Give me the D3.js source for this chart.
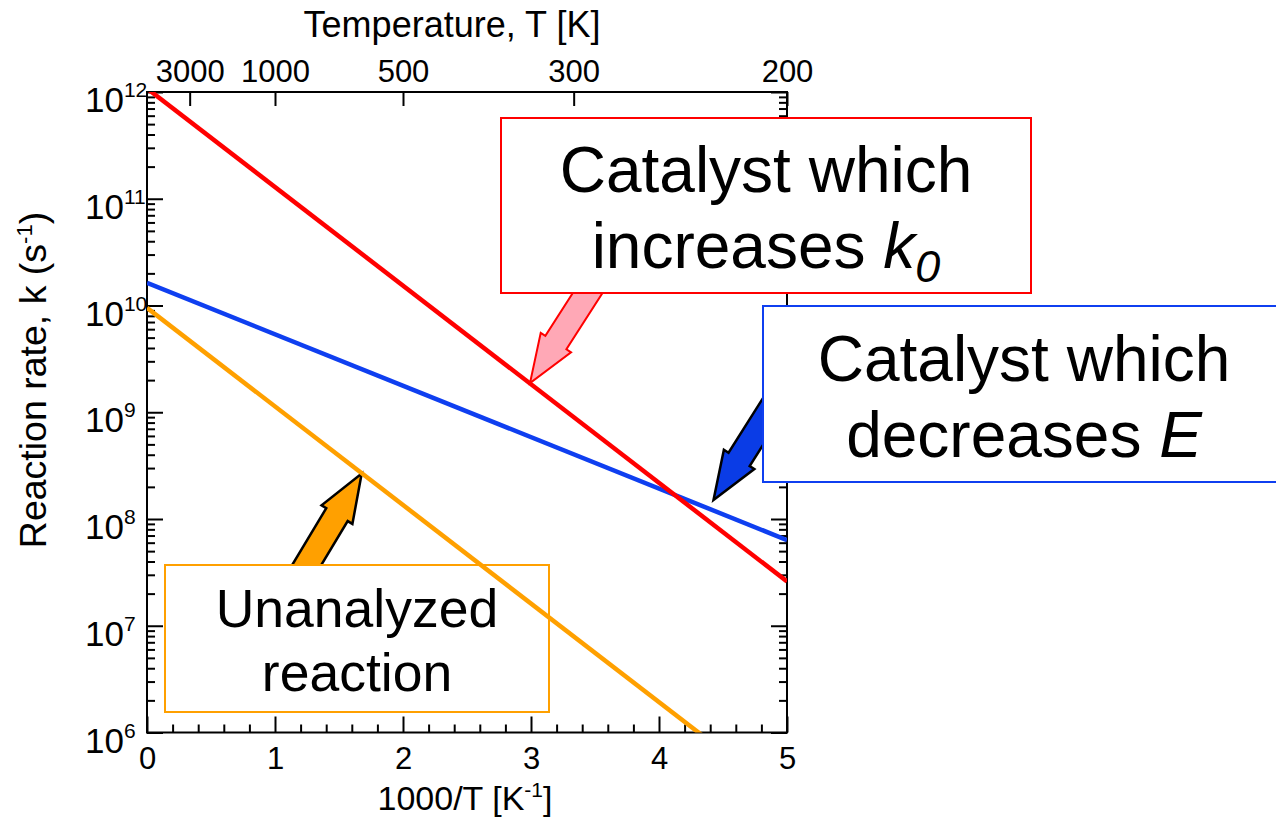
<!DOCTYPE html>
<html>
<head>
<meta charset="utf-8">
<script src="https://cdn.jsdelivr.net/npm/d3@7"></script>
<style>
  body { margin: 0; background: #fff; }
  svg { display: block; font-family: "Liberation Sans", Arial, sans-serif; }
</style>
</head>
<body>
<script>
// ---- data ----
const xEnds = [0, 5];                       // 1000/T at the two line ends
const kUnanalyzed = [9.5e9, 2.3e5];         // orange
const kIncreaseK0 = [1.08e12, 2.6e7];       // red
const kDecreaseE = [1.63e10, 6.35e7];       // blue
const xTicks = [0, 1, 2, 3, 4, 5];
const tempTicks = [3000, 1000, 500, 300, 200];
const yDecades = [6, 7, 8, 9, 10, 11, 12];

const W = 1276, H = 821;
const svg = d3.select("body").append("svg")
  .attr("width", W).attr("height", H);

const x = d3.scaleLinear().domain([0, 5]).range([147, 787]);
const y = d3.scaleLog().domain([1e6, 1e12]).range([732.5, 92]);

const RED = "#ff0000", BLUE = "#0f3ff0", ORANGE = "#ffa000";

// minor ticks
let xMinor = d3.range(0, 5.01, 0.2).filter(v => Math.abs(v - Math.round(v)) > 1e-6);
let yMinor = [];
for (let e = 6; e < 12; e++) for (let m = 2; m <= 9; m++) yMinor.push(m * Math.pow(10, e));

const axes = svg.append("g").attr("class", "axes");

function addAxis(gen, tx, ty) {
  const g = axes.append("g").attr("transform", `translate(${tx},${ty})`).call(gen);
  g.select(".domain").remove();
  g.selectAll("line").attr("stroke", "#000").attr("stroke-width", 2);
  g.selectAll("text").attr("fill", "#000").style("font-size", "31px")
    .style("font-family", "Liberation Sans, Arial, sans-serif");
  return g;
}

// bottom
addAxis(d3.axisBottom(x).tickValues(xTicks).tickSizeInner(-16).tickSizeOuter(0)
  .tickPadding(14).tickFormat(d3.format("d")), 0, y.range()[0]);
addAxis(d3.axisBottom(x).tickValues(xMinor).tickSizeInner(-8).tickSizeOuter(0)
  .tickFormat(""), 0, y.range()[0]);

// top temperature axis, ticks at 1000/T
addAxis(d3.axisTop(x).tickValues(tempTicks.map(t => 1000 / t)).tickSizeInner(-14)
  .tickSizeOuter(0).tickPadding(10).tickFormat((d, i) => tempTicks[i]), 0, y.range()[1]);

// left + right log axes
[["L", 0], ["R", 1]].forEach(([side, k]) => {
  const px = x.range()[k];
  const mk = side === "L" ? d3.axisLeft : d3.axisRight;
  addAxis(mk(y).tickValues(yDecades.map(e => Math.pow(10, e))).tickSizeInner(-16)
    .tickSizeOuter(0).tickFormat(""), px, 0);
  addAxis(mk(y).tickValues(yMinor).tickSizeInner(-8).tickSizeOuter(0).tickFormat(""), px, 0);
});

// y labels 10^n
const yl = axes.append("g").selectAll("text").data(yDecades).join("text")
  .attr("x", 85).attr("y", d => y(Math.pow(10, d)) + 20)
  .attr("fill", "#000").style("font-size", "35px");
yl.append("tspan").text("10");
yl.append("tspan").attr("dy", -15).style("font-size", "21px").text(d => d);

// frame
axes.append("rect")
  .attr("x", x.range()[0]).attr("y", y.range()[1])
  .attr("width", x.range()[1] - x.range()[0]).attr("height", y.range()[0] - y.range()[1])
  .attr("fill", "none").attr("stroke", "#000").attr("stroke-width", 2);

// axis titles
svg.append("text").attr("x", 452).attr("y", 37).attr("text-anchor", "middle")
  .style("font-size", "36px").text("Temperature, T [K]");
const xt = svg.append("text").attr("x", 465).attr("y", 810).attr("text-anchor", "middle")
  .style("font-size", "34px");
xt.append("tspan").text("1000/T [K");
xt.append("tspan").attr("dy", -13).style("font-size", "21px").text("-1");
xt.append("tspan").attr("dy", 13).text("]");
const yt = svg.append("text").attr("transform", "translate(46,380) rotate(-90)")
  .attr("text-anchor", "middle").style("font-size", "37.5px");
yt.append("tspan").text("Reaction rate, k (s");
yt.append("tspan").attr("dy", -14).style("font-size", "22px").text("-1");
yt.append("tspan").attr("dy", 14).text(")");

// ---- arrows (drawn before boxes so the tails tuck under them) ----
function arrowPath(tail, tip, w, hw, hl, ext) {
  const dx = tip[0] - tail[0], dy = tip[1] - tail[1];
  const len = Math.hypot(dx, dy);
  const ux = dx / len, uy = dy / len, nx = -uy, ny = ux;
  const t0 = [tail[0] - ux * ext, tail[1] - uy * ext];
  const b = [tip[0] - ux * hl, tip[1] - uy * hl];
  const pts = [
    [t0[0] + nx * w / 2, t0[1] + ny * w / 2],
    [b[0] + nx * w / 2, b[1] + ny * w / 2],
    [b[0] + nx * hw / 2, b[1] + ny * hw / 2],
    tip,
    [b[0] - nx * hw / 2, b[1] - ny * hw / 2],
    [b[0] - nx * w / 2, b[1] - ny * w / 2],
    [t0[0] - nx * w / 2, t0[1] - ny * w / 2]
  ];
  return d3.line()(pts) + "Z";
}
const arrows = [
  { tail: [587, 294], tip: [530, 383], fill: "#ffa8b6", stroke: RED, sw: 2 },
  { tail: [306.7, 565], tip: [361.7, 473.5], fill: ORANGE, stroke: "#000", sw: 2.5 },
  { tail: [763, 421.5], tip: [713.5, 500], fill: "#0a3ce6", stroke: "#000", sw: 2.5 }
];
svg.append("g").selectAll("path").data(arrows).join("path")
  .attr("d", d => arrowPath(d.tail, d.tip, 25, 36, 48, 30))
  .attr("fill", d => d.fill).attr("stroke", d => d.stroke)
  .attr("stroke-width", d => d.sw).attr("stroke-linejoin", "miter");

// ---- label boxes ----
const boxes = [
  { x0: 501, y0: 118, x1: 1031, y1: 293, color: RED },
  { x0: 763, y0: 306, x1: 1300, y1: 482, color: BLUE },
  { x0: 165, y0: 565, x1: 549, y1: 712, color: ORANGE }
];
svg.append("g").selectAll("rect").data(boxes).join("rect")
  .attr("x", d => d.x0).attr("y", d => d.y0)
  .attr("width", d => d.x1 - d.x0).attr("height", d => d.y1 - d.y0)
  .attr("fill", "#fff").attr("stroke", d => d.color).attr("stroke-width", 2);

// ---- reaction-rate lines ----
svg.append("clipPath").attr("id", "plotclip").append("rect")
  .attr("x", x.range()[0]).attr("y", y.range()[1])
  .attr("width", x.range()[1] - x.range()[0]).attr("height", y.range()[0] - y.range()[1]);
const line = d3.line().x(d => x(d[0])).y(d => y(d[1]));
const series = [
  { k: kUnanalyzed, color: ORANGE },
  { k: kDecreaseE, color: BLUE },
  { k: kIncreaseK0, color: RED }
];
svg.append("g").attr("clip-path", "url(#plotclip)")
  .selectAll("path").data(series).join("path")
  .attr("d", d => line(xEnds.map((v, i) => [v, d.k[i]])))
  .attr("fill", "none").attr("stroke", d => d.color).attr("stroke-width", 4.5);

// ---- box texts ----
function boxText(cx, ys, size, parts) {
  parts.forEach((p, i) => {
    const t = svg.append("text").attr("x", cx).attr("y", ys[i])
      .attr("text-anchor", "middle").style("font-size", size + "px");
    p.forEach(s => {
      const ts = t.append("tspan").text(s.t);
      if (s.it) ts.style("font-style", "italic");
      if (s.sub) ts.attr("dy", s.sub).style("font-size", s.fs + "px");
    });
  });
}
boxText(766, [192, 268], 64, [
  [{ t: "Catalyst which" }],
  [{ t: "increases " }, { t: "k", it: true }, { t: "0", it: true, sub: 14, fs: 45 }]
]);
boxText(1024, [381, 457], 64, [
  [{ t: "Catalyst which" }],
  [{ t: "decreases " }, { t: "E", it: true }]
]);
boxText(357, [627, 691], 53.5, [
  [{ t: "Unanalyzed" }],
  [{ t: "reaction" }]
]);
</script>
</body>
</html>
